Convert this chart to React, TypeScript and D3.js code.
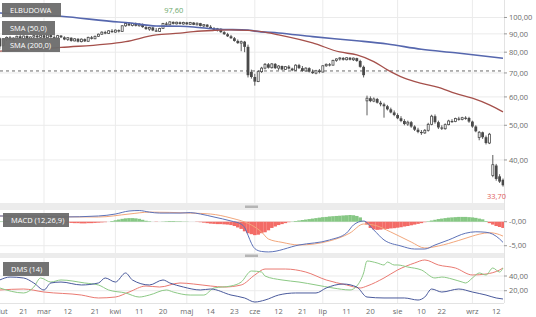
import React from 'react';
import * as d3 from 'd3';

// ---------- price candles (index = trading day) ----------
const open = [87.5,83.5,87,88,86.6,87.6,88.6,87.4,88.8,87,88.2,89,88,89.2,87.8,89.3,88.1,87.6,89,88,86.8,87.8,86,87.2,85.6,87,85.8,88,87.2,88.6,89.8,91,90.2,91.8,91,92.2,91.4,94.8,96.2,95,96.2,94.8,95.8,94,92.8,93.8,92,91.4,93.2,96.2,95.4,97.2,96,97,95.9,96.9,95.7,96.8,95.4,96.4,94.7,95.5,94.2,93.4,92.3,93,91,89.8,88.6,87.5,86,84.8,85.6,82.8,70.5,68.2,66.2,70.6,72.2,74,72.4,74.2,72.2,73.2,71.6,72.9,72,71.2,73.6,72.2,70.9,72.2,70.6,69.9,71,70.4,73.3,74,73.6,75.9,76.6,77.1,76.2,77.2,76.2,77,75.6,72.8,58.5,59.5,58.4,59.2,57.8,57.2,56.5,55.4,54.3,53.4,52.3,51.4,50.4,51,49.6,48.6,47.9,47.6,48.4,50.3,53,51,49.3,48.9,50.2,51.4,51.2,52.2,51.9,52.5,52.4,51.2,49.6,46.2,47.8,46.3,44.6,36.2,38.6,36,35.2];
const high = [88,87.5,88.5,88.8,88,89,89.5,89,89.2,88.5,89.5,89.6,89.5,89.6,89.5,89.6,89.2,89.4,89.3,88.6,88.2,88,87.6,87.5,87.4,87.4,88.4,88.8,89,90.2,91.5,91.8,92.2,92.8,92.6,92.6,95.2,96.6,97.1,96.6,96.8,96.4,96.2,94.6,94.2,94,93.4,93.6,96.6,97.2,97.6,97.5,97.3,97.4,97.3,97.2,97.2,97,96.8,96.6,95.8,95.8,95.2,94,93.5,93.2,91.6,90.6,89.4,88.2,86.8,86.2,86,84,71.5,69.6,71.2,72.8,74.6,74.6,74.6,74.6,73.6,73.4,73.2,73.6,72.4,74,74.2,73.2,72.6,72.6,71.6,71.4,71.8,73.6,74.4,74.6,76.2,76.9,77.4,77.5,77.4,77.5,77.3,77.2,76.2,73.4,60.5,60.2,59.8,59.6,58.5,57.8,57,56,55,54,53,52,51.5,51.4,50,49.2,48.5,48.8,50.8,53.5,53.6,51.5,50,50.6,51.8,52,52.5,52.8,52.8,53,52.8,51.5,50,48.2,48,46.8,47.6,41.3,39,36.5,35.5];
const low = [81.5,83,86,86.2,86,87,87,87,86.5,86.5,87.5,87.6,87.5,87.4,87.5,87.8,87.2,87.4,87.6,86.4,86,85.6,85.8,85.2,85.2,85.4,85.5,86.8,87,88.2,89.4,89.8,90,90.6,90.6,90.8,91.2,94.2,94.6,94.4,94.4,94.3,93.6,92.4,91.8,91.6,91.2,91.2,93,95,95.2,95.6,95.6,95.6,95.5,95.4,95.4,95.2,95,94.4,93.8,93.8,93.2,92,91.4,90.6,89.4,88.2,87.2,85.6,84.4,80.5,80,68,67.5,64.5,66,70,71.6,72,72,71.8,71.2,71.2,71.4,71.6,70.8,71,71.8,70.6,70.6,70.2,69.6,69.4,69.8,70.2,72.8,73,73.4,75.2,75.8,75.8,75.9,75.9,75.6,75.2,72.4,68,53.3,58,58,57.5,56.5,52.5,55,54,53,52,51,50,49.8,49.2,48.2,47.5,47,47.3,48,50,50.5,48.8,48.5,48.6,50,50.8,51,51.5,51.6,51.8,50.8,49.2,47.8,45.4,45.8,44.2,44.3,35.8,35,34.5,33.7];
const close = [83,87,88,86.6,87.6,88.6,87.4,88.8,87,88.2,89,88,89.2,87.8,89.3,88.1,87.6,89,88,86.8,87.8,86,87.2,85.6,87,85.8,88,87.2,88.6,89.8,91,90.2,91.8,91,92.2,91.4,94.8,96.2,95,96.2,94.8,95.8,94,92.8,93.8,92,91.4,93.2,96.2,95.4,97.2,96,97,95.9,96.9,95.7,96.8,95.4,96.4,94.7,95.5,94.2,93.4,92.3,93,91,89.8,88.6,87.5,86,84.8,85.6,82.8,69,68.2,66.2,70.6,72.2,74,72.4,74.2,72.2,73.2,71.6,72.9,72,71.2,73.6,72.2,70.9,72.2,70.6,69.9,71,70.4,73.3,74,73.6,75.9,76.6,77.1,76.2,77.2,76.2,77,75.6,72.8,69,59.5,58.4,59.2,57.8,57.2,56.5,55.4,54.3,53.4,52.3,51.4,50.4,51,49.6,48.6,47.9,47.6,48.4,50.3,53,51,49.3,48.9,50.2,51.4,51.2,52.2,51.9,52.5,52.4,51.2,49.6,48.1,47.8,46.3,44.6,47.2,38.8,35.4,34.8,34.0];

// ---------- moving averages (knots: trading-day index, value) ----------
const sma200Idx = [0, 18, 35, 37, 46, 53, 57, 64, 73, 75, 82, 92, 105, 114, 124, 134, 148];
const sma200Val = [102.9, 100.8, 97.1, 96.8, 94.7, 94.5, 94.1, 92.7, 92.3, 91.6, 90.5, 88.4, 86.1, 84.3, 81.5, 79.7, 76.9];
const sma50Idx = [0, 18, 37, 46, 53, 57, 63, 68, 73, 77, 82, 92, 100, 105, 110, 114, 119, 124, 129, 134, 139, 144, 148];
const sma50Val = [80.5, 82.5, 85.6, 89.4, 90.4, 91.3, 92.0, 92.3, 92.0, 91.3, 89.4, 84.9, 80.1, 78.6, 75.3, 71.4, 67.7, 65.5, 63.8, 61.4, 59.5, 57.0, 54.5];
const refLevel = 70.9;
const priceTicks = [100, 90, 80, 70, 60, 50, 40];

// ---------- MACD ----------
const macdHist = [0.1,0.1,0.15,0.1,0.05,0,-0.05,-0.1,-0.1,-0.05,0,0.05,0.1,0.1,0.05,0,-0.05,-0.1,-0.15,-0.2,-0.2,-0.25,-0.3,
  -0.3,-0.35,-0.35,-0.3,-0.3,-0.25,-0.2,-0.15,-0.1,0,
  0.15,0.3,0.45,0.6,0.7,0.75,0.75,0.7,0.6,0.4,0.2,
  0.1,0,-0.05,0,0.05,0.1,0.15,0.15,0.1,0.1,0.05,0.05,0,0,-0.05,
  -0.1,-0.2,-0.3,-0.4,-0.45,-0.5,-0.5,-0.55,-0.6,-0.7,
  -0.9,-1.2,-1.5,-2.0,-2.4,-2.6,-2.8,-2.7,-2.4,-2.2,
  -1.8,-1.3,-1.0,-0.7,-0.5,-0.3,-0.1,
  0.05,0.15,0.25,0.35,0.45,0.55,0.65,0.75,0.85,0.95,1.0,1.1,1.15,1.2,1.25,1.3,1.35,1.4,1.35,1.2,0.9,
  0.1,-0.6,-1.3,-1.6,-1.7,-1.65,
  -1.55,-1.5,-1.4,-1.35,-1.25,-1.15,-1.0,-0.9,-0.75,-0.6,-0.45,-0.3,-0.1,
  0.1,0.25,0.4,0.55,0.65,0.75,0.85,0.9,0.95,1.0,1.0,1.0,0.95,0.9,0.8,0.65,0.5,
  0.15,-0.3,-0.6,-0.9,-1.1,-1.3];
const macdIdx = [0, 12, 18, 29, 34, 38, 41, 44, 47, 53, 56, 59, 63, 68, 71, 72, 73, 74, 75, 77, 79, 88, 97, 102, 104, 107, 110, 113, 118, 122, 125, 128, 132, 137, 140, 143, 145, 147, 148];
const macdVal = [1.19, 1.19, 0.98, 1.19, 1.6, 2.23, 2.33, 2.0, 1.8, 1.8, 1.9, 1.6, 0.98, 0.15, -0.5, -1.2, -2.8, -4.5, -5.6, -6.2, -6.3, -4.85, -3.8, -2.35, -0.69, 0.15, -1.73, -3.8, -5.06, -5.69, -5.69, -4.85, -3.8, -2.4, -2.1, -2.2, -2.6, -3.6, -4.3];
const signalIdx = [0, 29, 38, 44, 56, 62, 68, 74, 77, 79, 83, 88, 97, 103, 107, 110, 115, 121, 125, 129, 135, 139, 141, 144, 147, 148];
const signalVal = [1.19, 0.98, 1.6, 2.0, 1.8, 1.6, 0.77, -0.69, -2.15, -3.6, -4.3, -4.85, -4.0, -2.35, -0.48, -0.69, -2.15, -4.23, -5.48, -5.06, -3.9, -3.0, -2.6, -2.3, -2.7, -3.0];
const macdTicks = [0, -5];
const macdTickLabels = ['-0,00', '-5,00'];

// ---------- DMS (14) ----------
const dmsBlueIdx = [0, 3, 7, 10, 13, 15, 18, 24, 29, 31, 34, 37, 39, 44, 48, 50, 54, 59, 62, 68, 72, 75, 78, 82, 87, 93, 96, 101, 105, 108, 113, 119, 123, 125, 127, 130, 135, 139, 143, 146, 148];
const dmsBlueVal = [34.6, 38.6, 37.3, 30.5, 21.0, 30.5, 31.8, 27.8, 30.5, 37.3, 31.8, 44.1, 34.6, 27.8, 34.6, 30.5, 25.0, 21.0, 22.3, 14.1, 10.1, 4.6, 7.3, 14.1, 16.9, 16.9, 23.7, 29.1, 25.0, 11.4, 10.1, 10.1, 7.3, 11.4, 22.3, 18.2, 22.3, 18.2, 14.1, 10.1, 8.7];
const dmsGreenIdx = [0, 7, 10, 12, 15, 18, 25, 29, 32, 37, 41, 44, 49, 51, 56, 60, 63, 68, 71, 74, 77, 78, 83, 88, 93, 98, 103, 105, 107, 108, 111, 113, 114, 116, 117, 120, 124, 128, 130, 133, 136, 137, 139, 141, 143, 145, 147, 148];
const dmsGreenVal = [23.7, 16.9, 25.0, 37.3, 31.8, 34.6, 30.5, 27.8, 21.0, 16.9, 11.4, 14.1, 21.0, 18.2, 14.1, 14.1, 23.7, 26.4, 31.8, 46.8, 45.4, 40.0, 34.6, 31.8, 27.8, 23.7, 21.0, 26.4, 44.1, 60.4, 57.7, 55.0, 59.0, 55.0, 55.0, 52.2, 48.2, 37.3, 38.6, 35.9, 31.8, 30.5, 37.3, 44.1, 41.4, 50.9, 45.4, 50.9];
const dmsRedIdx = [0, 7, 13, 24, 29, 34, 38, 43, 47, 53, 57, 62, 66, 71, 75, 78, 84, 90, 96, 102, 106, 108, 113, 117, 122, 125, 129, 134, 139, 143, 147, 148];
const dmsRedVal = [21.0, 22.3, 18.2, 14.1, 10.1, 11.4, 18.2, 26.4, 25.0, 30.5, 29.1, 26.4, 25.0, 27.8, 41.4, 49.5, 49.5, 45.4, 34.6, 27.8, 23.7, 26.4, 37.3, 48.2, 57.7, 61.8, 55.0, 50.9, 41.4, 42.7, 48.2, 50.9];
const dmsTicks = [40, 20];
const dmsTickLabels = ['40,00', '20,00'];

// ---------- x axis ----------
const xTickLabels = ['lut', '21', 'mar', '12', '21', 'kwi', '11', '20', 'maj', '14', '23', 'cze', '12', '21', 'lip', '11', '20', 'sie', '10', '22', 'wrz', '12'];
const xTickIdx = [1, 7, 13, 20, 28, 34, 41, 48, 55, 62, 69, 75, 82, 89, 95, 102, 109, 117, 124, 130, 139, 146];
const monthIdx = [13, 34, 55, 75, 95, 117, 139];

const FONT = '"Open Sans", "Liberation Sans", Arial, sans-serif';
const GRID = '#ebebeb';
const AXIS_TXT = '#6b6b6b';

export default function App() {
  const PR = 504;
  const x = d3.scaleLinear().domain([0, 148]).range([-0.2, 503]);
  const yP = d3.scaleLog().domain([30.33, 111.9]).range([203, 0]);
  const yM = d3.scaleLinear().domain([-6.52, 2.44]).range([253, 210]);
  const yD = d3.scaleLinear().domain([3.27, 64.5]).range([303, 258]);

  const knotLine = (idx: number[], val: number[], ys: (v: number) => number) =>
    d3.line<number>().x((_, k) => x(idx[k])).y(d => ys(d)).curve(d3.curveMonotoneX)(val) || '';

  const candleColor = '#4a4a4a';
  const bw = 2.8;

  const panels = [
    { top: 0, bottom: 203 },
    { top: 210, bottom: 253 },
    { top: 258, bottom: 303 },
  ];

  const labelBox = (bx: number, by: number, bwid: number, text: string) => (
    <g>
      <rect x={bx} y={by} width={bwid} height={14} fill="#6c6c6c" fillOpacity={0.95} />
      <text x={bx + 8} y={by + 10} fontSize={7.5} fill="#ffffff" fontFamily={FONT}>{text}</text>
    </g>
  );

  const hiIdx = d3.maxIndex(high);
  const loIdx = d3.minIndex(low);
  const fmt = (v: number) => v.toFixed(2).replace('.', ',');

  return (
    <svg width={536} height={317} style={{ position: 'absolute', left: 0, top: 0, background: '#fff' }} fontFamily={FONT}>
      <defs>
        <clipPath id="cMain"><rect x={0} y={0} width={PR} height={203} /></clipPath>
        <clipPath id="cMacd"><rect x={0} y={210} width={PR} height={43} /></clipPath>
        <clipPath id="cDms"><rect x={0} y={258} width={PR} height={45} /></clipPath>
      </defs>
      <rect x={0} y={0} width={536} height={317} fill="#fff" />

      {/* vertical grid */}
      {panels.map((p, pi) => (
        <g key={pi}>
          {monthIdx.map((m, k) => (
            <line key={k} x1={x(m)} x2={x(m)} y1={p.top} y2={p.bottom} stroke={GRID} strokeWidth={1} />
          ))}
        </g>
      ))}
      {/* horizontal grids */}
      {priceTicks.map((t, k) => (
        <line key={'pg' + k} x1={0} x2={PR} y1={yP(t)} y2={yP(t)} stroke={GRID} />
      ))}
      {macdTicks.map((t, k) => (
        <line key={'mg' + k} x1={0} x2={PR} y1={yM(t)} y2={yM(t)} stroke={GRID} />
      ))}
      {dmsTicks.map((t, k) => (
        <line key={'dg' + k} x1={0} x2={PR} y1={yD(t)} y2={yD(t)} stroke={GRID} />
      ))}

      {/* separators */}
      <rect x={0} y={203} width={PR} height={7} fill="#ececec" />
      <rect x={245} y={205.5} width={13} height={2.5} fill="#b5b5b5" />
      <rect x={0} y={253} width={PR} height={5} fill="#ececec" />
      <rect x={245} y={254.5} width={13} height={2.5} fill="#b5b5b5" />
      <line x1={0} x2={PR} y1={303.5} y2={303.5} stroke="#e3e3e3" />
      <line x1={PR + 0.5} x2={PR + 0.5} y1={0} y2={303} stroke="#e3e3e3" />

      {/* main panel */}
      <g clipPath="url(#cMain)">
        <line x1={0} x2={PR} y1={yP(refLevel)} y2={yP(refLevel)} stroke="#6a6a6a" strokeDasharray="3,3" strokeWidth={1} />
        {open.map((o, i) => {
          const c = close[i];
          const cx = x(i);
          const up = c >= o;
          const yt = yP(Math.max(o, c));
          const yb = yP(Math.min(o, c));
          return (
            <g key={i}>
              <line x1={cx} x2={cx} y1={yP(high[i])} y2={yP(low[i])} stroke={candleColor} strokeWidth={0.9} />
              {up ? (
                <rect x={cx - bw / 2 + 0.4} y={yt} width={bw - 0.8} height={Math.max(yb - yt, 1)} fill="#fff" stroke={candleColor} strokeWidth={0.8} />
              ) : (
                <rect x={cx - bw / 2} y={yt} width={bw} height={Math.max(yb - yt, 1.2)} fill={candleColor} />
              )}
            </g>
          );
        })}
        <path d={knotLine(sma200Idx, sma200Val, yP)} fill="none" stroke="#5667ae" strokeWidth={1.6} />
        <path d={knotLine(sma50Idx, sma50Val, yP)} fill="none" stroke="#a5504b" strokeWidth={1.3} />
      </g>
      <text x={x(hiIdx) + 4} y={yP(high[hiIdx]) - 8} fontSize={7.5} fill="#6aa96a" textAnchor="middle">{fmt(high[hiIdx])}</text>
      <text x={Math.min(x(loIdx) + 3, 506)} y={yP(low[loIdx]) + 12.5} fontSize={7.5} fill="#e0605a" textAnchor="end">{fmt(low[loIdx])}</text>
      {labelBox(2, 3, 59, 'ELBUDOWA')}
      {labelBox(2, 21, 53, 'SMA (50,0)')}
      {labelBox(2, 38, 58, 'SMA (200,0)')}

      {/* MACD panel */}
      <g clipPath="url(#cMacd)">
        {macdHist.map((h, i) => (
          <rect key={i} x={x(i) - 1.75} width={3.5} y={h >= 0 ? yM(h) : yM(0)} height={Math.abs(yM(h) - yM(0))} fill={h >= 0 ? '#86c784' : '#f36b66'} />
        ))}
        <path d={knotLine(signalIdx, signalVal, yM)} fill="none" stroke="#f2a77c" strokeWidth={1} />
        <path d={knotLine(macdIdx, macdVal, yM)} fill="none" stroke="#5d72b8" strokeWidth={1} />
      </g>
      {labelBox(3, 213, 66, 'MACD (12,26,9)')}

      {/* DMS panel */}
      <g clipPath="url(#cDms)">
        <path d={knotLine(dmsRedIdx, dmsRedVal, yD)} fill="none" stroke="#ea7a72" strokeWidth={1} />
        <path d={knotLine(dmsGreenIdx, dmsGreenVal, yD)} fill="none" stroke="#8cc985" strokeWidth={1} />
        <path d={knotLine(dmsBlueIdx, dmsBlueVal, yD)} fill="none" stroke="#4a5a9c" strokeWidth={1} />
      </g>
      {labelBox(3, 262, 46, 'DMS (14)')}

      {/* right axes */}
      {priceTicks.map((t, k) => (
        <g key={'pt' + k}>
          <line x1={PR} x2={PR + 3} y1={yP(t)} y2={yP(t)} stroke="#9a9a9a" />
          <text x={PR + 5} y={yP(t) + 2.7} fontSize={7.5} fill={AXIS_TXT}>{fmt(t)}</text>
        </g>
      ))}
      {macdTicks.map((t, k) => (
        <g key={'mt' + k}>
          <line x1={PR} x2={PR + 3} y1={yM(t)} y2={yM(t)} stroke="#9a9a9a" />
          <text x={PR + 5} y={yM(t) + 2.7} fontSize={7.5} fill={AXIS_TXT}>{macdTickLabels[k]}</text>
        </g>
      ))}
      {dmsTicks.map((t, k) => (
        <g key={'dt' + k}>
          <line x1={PR} x2={PR + 3} y1={yD(t)} y2={yD(t)} stroke="#9a9a9a" />
          <text x={PR + 5} y={yD(t) + 2.7} fontSize={7.5} fill={AXIS_TXT}>{dmsTickLabels[k]}</text>
        </g>
      ))}

      {/* x axis */}
      {xTickIdx.map((ti, k) => (
        <text key={'xt' + k} x={x(ti)} y={313.5} fontSize={7.5} fill={AXIS_TXT} textAnchor="middle">{xTickLabels[k]}</text>
      ))}
    </svg>
  );
}
